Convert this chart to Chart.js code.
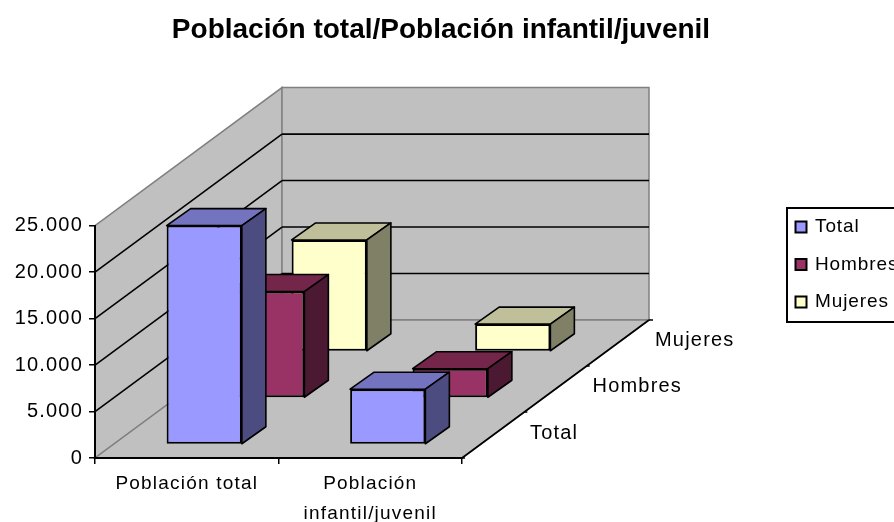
<!DOCTYPE html>
<html>
<head>
<meta charset="utf-8">
<style>
  html, body { margin: 0; padding: 0; background: #fff; overflow: hidden; }
  canvas { display: block; filter: blur(0.4px); }
</style>
<script src="https://cdn.jsdelivr.net/npm/chart.js@4/dist/chart.umd.min.js"></script>
</head>
<body>
<canvas id="myChart" width="894" height="522"></canvas>
<script>
// Values
const categories = [["Población total"], ["Población", "infantil/juvenil"]];
const seriesNames = ["Total", "Hombres", "Mujeres"];
const totalValues = [23550, 5950];
const hombresValues = [11450, 3150];
const mujeresValues = [12000, 2950];

// Fake 3D look: the floor runs up and to the right of the front plane
const FLOOR_DX = 187;
const FLOOR_DY = -138;
const ROW_DX = 62.5;
const ROW_DY = -46.5;
const BAR_DEPTH_DX = 24;
const BAR_DEPTH_DY = -17;
const FONT_FAMILY = "'Liberation Sans', Arial, sans-serif";
const TEXT_SPACING = "1.2px";

const frontColors = ["#9999FF", "#993366", "#FFFFCC"];
const sideColors = ["#4C4C80", "#4C1933", "#808066"];
const topColors = ["#7373BF", "#732649", "#BFBF99"];

function poly(ctx, pts, fill, stroke, lw) {
  ctx.beginPath();
  pts.forEach((p, i) => i ? ctx.lineTo(p[0], p[1]) : ctx.moveTo(p[0], p[1]));
  ctx.closePath();
  ctx.fillStyle = fill;
  ctx.fill();
  ctx.strokeStyle = stroke;
  ctx.lineWidth = lw;
  ctx.stroke();
}

function line(ctx, x1, y1, x2, y2, color, lw) {
  ctx.beginPath();
  ctx.moveTo(x1, y1);
  ctx.lineTo(x2, y2);
  ctx.strokeStyle = color;
  ctx.lineWidth = lw;
  ctx.stroke();
}

const wallsPlugin = {
  id: "walls",
  afterInit(chart) {
    // axis text is spaced out, the title is not
    const block = chart.titleBlock;
    const drawTitle = block.draw;
    block.draw = function () {
      chart.ctx.letterSpacing = "0px";
      drawTitle.apply(block, arguments);
      chart.ctx.letterSpacing = TEXT_SPACING;
    };
  },
  beforeDraw(chart) {
    const ctx = chart.ctx;
    const a = chart.chartArea;
    const y = chart.scales.y;
    const dx = FLOOR_DX, dy = FLOOR_DY;
    ctx.save();
    // left wall, back wall, floor
    poly(ctx, [[a.left, a.bottom], [a.left, a.top], [a.left + dx, a.top + dy], [a.left + dx, a.bottom + dy]], "#C0C0C0", "#808080", 1.5);
    poly(ctx, [[a.left + dx, a.top + dy], [a.right + dx, a.top + dy], [a.right + dx, a.bottom + dy], [a.left + dx, a.bottom + dy]], "#C0C0C0", "#808080", 1.5);
    poly(ctx, [[a.left, a.bottom], [a.right, a.bottom], [a.right + dx, a.bottom + dy], [a.left + dx, a.bottom + dy]], "#C0C0C0", "#808080", 1.5);
    // gridlines on both walls
    y.ticks.forEach(t => {
      if (t.value === y.min || t.value === y.max) return;
      const py = y.getPixelForValue(t.value);
      line(ctx, a.left, py, a.left + dx, py + dy, "#000", 1.6);
      line(ctx, a.left + dx, py + dy, a.right + dx, py + dy, "#000", 1.6);
    });
    // depth axis with its ticks and series names
    line(ctx, a.right, a.bottom, a.right + dx, a.bottom + dy, "#000", 1.6);
    ctx.font = "20px " + FONT_FAMILY;
    ctx.letterSpacing = TEXT_SPACING;
    ctx.fillStyle = "#000";
    ctx.textAlign = "left";
    ctx.textBaseline = "middle";
    seriesNames.forEach((name, i) => {
      const tx = a.right + dx * i / 3;
      const ty = a.bottom + dy * i / 3;
      line(ctx, tx, ty, tx + 3, ty, "#000", 1.5);
      ctx.fillText(name, a.right + 68 + ROW_DX * i, a.bottom - 25 + ROW_DY * i);
    });
    line(ctx, a.right + dx, a.bottom + dy, a.right + dx + 4, a.bottom + dy, "#000", 1.5);
    ctx.restore();
    ctx.letterSpacing = TEXT_SPACING;
  },
  beforeDatasetDraw(chart, args) {
    const ctx = chart.ctx;
    const i = args.index;
    ctx.save();
    // each series stands on its own row of the floor
    ctx.translate(17.5 + ROW_DX * i, -13.5 + ROW_DY * i);
  },
  afterDatasetDraw(chart, args) {
    const ctx = chart.ctx;
    const i = args.index;
    args.meta.data.forEach(el => {
      const l = el.x - el.width / 2;
      const r = el.x + el.width / 2;
      const t = el.y;
      const b = el.base;
      const ddx = BAR_DEPTH_DX, ddy = BAR_DEPTH_DY;
      ctx.lineJoin = "round";
      poly(ctx, [[l, t], [r, t], [r + ddx, t + ddy], [l + ddx, t + ddy]], topColors[i], "#000", 1.6);
      poly(ctx, [[r, t], [r + ddx, t + ddy], [r + ddx, b + ddy], [r, b]], sideColors[i], "#000", 1.6);
    });
    ctx.restore();
  },
  afterDraw(chart) {
    // legend box runs off the right edge like in the original
    const ctx = chart.ctx;
    ctx.save();
    ctx.strokeStyle = "#000";
    ctx.lineWidth = 2;
    ctx.strokeRect(787, 208, 120, 114);
    ctx.font = "19px " + FONT_FAMILY;
    ctx.letterSpacing = "0.9px";
    ctx.textAlign = "left";
    ctx.textBaseline = "middle";
    seriesNames.forEach((name, i) => {
      const yy = 227 + 37.5 * i;
      ctx.fillStyle = frontColors[i];
      ctx.fillRect(795.5, yy - 5.5, 11, 11);
      ctx.strokeRect(795.5, yy - 5.5, 11, 11);
      ctx.fillStyle = "#000";
      ctx.fillText(name, 815, yy);
    });
    ctx.restore();
  }
};

const seriesValues = [totalValues, hombresValues, mujeresValues];

new Chart(document.getElementById("myChart"), {
  type: "bar",
  data: {
    labels: categories,
    datasets: seriesNames.map((name, i) => ({
      label: name,
      data: seriesValues[i],
      backgroundColor: frontColors[i],
      borderColor: "#000",
      borderWidth: 2,
      borderSkipped: false,
      grouped: false,
      clip: false,
      barPercentage: 1,
      categoryPercentage: 0.41,
    })),
  },
  options: {
    responsive: false,
    animation: false,
    layout: { padding: { left: 0, right: 12, top: 0, bottom: 0 } },
    plugins: {
      legend: { display: false },
      tooltip: { enabled: false },
      title: {
        display: true,
        text: "Población total/Población infantil/juvenil",
        color: "#000",
        font: { family: FONT_FAMILY, size: 28, weight: "bold" },
        padding: { top: 13, bottom: 179 },
      },
    },
    scales: {
      x: {
        afterFit: s => { s.height = 64; },
        grid: { drawOnChartArea: false, color: "#000", tickLength: 6, lineWidth: 1.5 },
        border: { color: "#000", width: 2 },
        ticks: { color: "#000", font: { family: FONT_FAMILY, size: 19, lineHeight: 1.58 }, padding: 5, maxRotation: 0 },
      },
      y: {
        min: 0,
        max: 25000,
        afterFit: s => { s.width = 95; },
        grid: { drawOnChartArea: false, color: "#000", tickLength: 6, lineWidth: 1.5 },
        border: { color: "#000", width: 2 },
        ticks: {
          stepSize: 5000,
          color: "#000",
          padding: 6,
          font: { family: FONT_FAMILY, size: 20 },
          callback: v => String(v).replace(/(\d)(?=\d{3}$)/, "$1."),
        },
      },
      // empty axis, only keeps the plot area narrow so the title stays centred on the page
      spacer: {
        position: "right",
        afterFit: s => { s.width = 420; },
        grid: { display: false },
        border: { display: false },
        ticks: { display: false },
      },
    },
  },
  plugins: [wallsPlugin],
});
</script>
</body>
</html>
